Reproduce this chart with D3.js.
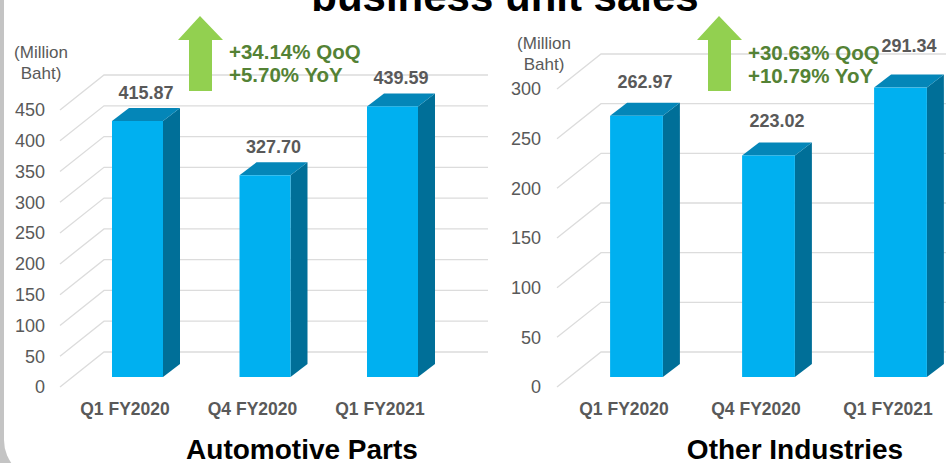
<!DOCTYPE html>
<html>
<head>
<meta charset="utf-8">
<script src="https://cdn.jsdelivr.net/npm/d3@7"></script>
<style>
  html, body { margin: 0; padding: 0; background: #ffffff; }
  svg { display: block; font-family: "Liberation Sans", Arial, sans-serif; }
</style>
</head>
<body>
<svg id="chart" width="946" height="463"></svg>
<script>
// ---------- data ----------
const categories = ["Q1 FY2020", "Q4 FY2020", "Q1 FY2021"];
const autoValues = [415.87, 327.70, 439.59];
const otherValues = [262.97, 223.02, 291.34];
const autoTicks = [0, 50, 100, 150, 200, 250, 300, 350, 400, 450];
const otherTicks = [0, 50, 100, 150, 200, 250, 300];
const autoGrowth = ["+34.14% QoQ", "+5.70% YoY"];
const otherGrowth = ["+30.63% QoQ", "+10.79% YoY"];
const chartTitles = ["Automotive Parts", "Other Industries"];
const unitLabel = ["(Million", "Baht)"];
const pageTitle = "business unit sales";

// ---------- drawing ----------
const svg = d3.select("#chart");
const W = 946, H = 463;

// frame
svg.append("rect").attr("x", 0).attr("y", 0).attr("width", W).attr("height", H).attr("fill", "#c4c4c4");
svg.append("rect").attr("x", 4).attr("y", -60).attr("width", 1100).attr("height", 540)
  .attr("rx", 40).attr("ry", 40).attr("fill", "#ffffff");

const GRID = "#dcdcdc", TXT = "#595959";
const FRONT = "#00b0f0", TOP = "#0486b8", SIDE = "#006f98";
const GREEN_ARROW = "#92d050", GREEN_TXT = "#548235";

function drawChart(cfg) {
  const g = svg.append("g");
  const y = d3.scaleLinear().domain([0, cfg.max]).range([cfg.y0, cfg.yMax]);
  const x = d3.scaleBand().domain(categories)
    .range([cfg.bandStart, cfg.bandStart + cfg.step * categories.length])
    .paddingInner(0.6).paddingOuter(0.3);
  const floor = { dx: 44, dy: -35 };   // wall depth
  const off = { dx: 12.5, dy: -10 };   // bar placement inside depth
  const bd = { dx: 17, dy: -13 };      // bar depth

  // gridlines on side wall + back wall
  g.selectAll("path.grid").data(cfg.ticks).join("path")
    .attr("class", "grid")
    .attr("fill", "none").attr("stroke", GRID).attr("stroke-width", 1.3)
    .attr("d", t => {
      const yy = y(t);
      return `M${cfg.wallX},${yy} L${cfg.wallX + floor.dx},${yy + floor.dy} L${cfg.gridEnd},${yy + floor.dy}`;
    });

  // tick labels
  g.selectAll("text.tick").data(cfg.ticks).join("text")
    .attr("class", "tick")
    .attr("x", cfg.tickX).attr("y", t => y(t)).attr("dy", "0.35em")
    .attr("text-anchor", "end").attr("font-size", 18).attr("fill", TXT)
    .text(t => t);

  // unit label
  g.append("text").attr("x", cfg.unitX).attr("y", cfg.unitY)
    .attr("text-anchor", "middle").attr("font-size", 17).attr("fill", TXT)
    .selectAll("tspan").data(unitLabel).join("tspan")
    .attr("x", cfg.unitX).attr("dy", (d, i) => i ? 21 : 0).text(d => d);

  // bars
  const bars = g.selectAll("g.bar").data(categories.map((c, i) => ({ c, v: cfg.values[i] })))
    .join("g").attr("class", "bar");
  const geo = d => {
    const xl = x(d.c) + off.dx, xr = xl + x.bandwidth();
    const yt = y(d.v) + off.dy, yb = y(0) + off.dy;
    return { xl, xr, yt, yb };
  };
  bars.append("polygon").attr("fill", SIDE).attr("points", d => {
    const p = geo(d);
    return [[p.xr, p.yt], [p.xr + bd.dx, p.yt + bd.dy], [p.xr + bd.dx, p.yb + bd.dy], [p.xr, p.yb]].join(" ");
  });
  bars.append("polygon").attr("fill", TOP).attr("points", d => {
    const p = geo(d);
    return [[p.xl, p.yt], [p.xl + bd.dx, p.yt + bd.dy], [p.xr + bd.dx, p.yt + bd.dy], [p.xr, p.yt]].join(" ");
  });
  bars.append("rect").attr("fill", FRONT)
    .attr("x", d => geo(d).xl).attr("y", d => geo(d).yt)
    .attr("width", x.bandwidth()).attr("height", d => geo(d).yb - geo(d).yt);

  // value labels (pushed up a bit more when the bar top is close to the chart top)
  bars.append("text")
    .attr("x", d => x(d.c) + off.dx + x.bandwidth() / 2 + bd.dx / 2)
    .attr("y", d => {
      const back = geo(d).yt + bd.dy;
      return back - cfg.labelGap - (back < cfg.crowdY ? cfg.extraGap : 0);
    })
    .attr("text-anchor", "middle").attr("font-size", 18).attr("font-weight", "bold").attr("fill", TXT)
    .text(d => d.v.toFixed(2));

  // category labels
  g.selectAll("text.cat").data(categories).join("text")
    .attr("class", "cat")
    .attr("x", c => x(c) + x.bandwidth() / 2).attr("y", cfg.catY)
    .attr("text-anchor", "middle").attr("font-size", 17.5).attr("font-weight", "bold").attr("fill", TXT)
    .text(c => c);

  // chart title
  g.append("text").attr("x", cfg.titleX).attr("y", 459)
    .attr("text-anchor", "middle").attr("font-size", 28).attr("font-weight", "bold").attr("fill", "#000")
    .text(cfg.title);

  // growth arrow
  const ax = cfg.arrowX;
  const pts = [[ax, 16], [ax + 23, 40], [ax + 12, 40], [ax + 12, 91], [ax - 11, 91], [ax - 11, 40], [ax - 22, 40]];
  g.append("polygon").attr("fill", GREEN_ARROW).attr("points", pts.join(" "));

  g.append("text").attr("x", cfg.growthX).attr("y", cfg.growthY)
    .attr("font-size", 20.5).attr("font-weight", "bold").attr("fill", GREEN_TXT)
    .selectAll("tspan").data(cfg.growth).join("tspan")
    .attr("x", cfg.growthX).attr("dy", (d, i) => i ? 23 : 0).text(d => d);
}

drawChart({
  values: autoValues, ticks: autoTicks, max: 450,
  y0: 387, yMax: 110, bandStart: 61.25, step: 127.5,
  wallX: 60, gridEnd: 488, tickX: 45,
  unitX: 41, unitY: 58, catY: 415, titleX: 302,
  labelGap: 9, crowdY: 0, extraGap: 0,
  arrowX: 200, growthX: 229, growthY: 59, growth: autoGrowth, title: chartTitles[0]
});

drawChart({
  values: otherValues, ticks: otherTicks, max: 300,
  y0: 387, yMax: 89, bandStart: 558, step: 132,
  wallX: 557, gridEnd: 960, tickX: 541,
  unitX: 544, unitY: 49, catY: 415, titleX: 795,
  labelGap: 15, crowdY: 85, extraGap: 8,
  arrowX: 719, growthX: 748, growthY: 60, growth: otherGrowth, title: chartTitles[1]
});

// page title (cut off at top, as in the source slide)
svg.append("text").attr("x", 505).attr("y", 11)
  .attr("text-anchor", "middle").attr("font-size", 42).attr("font-weight", "bold").attr("fill", "#000")
  .text(pageTitle);
</script>
</body>
</html>
